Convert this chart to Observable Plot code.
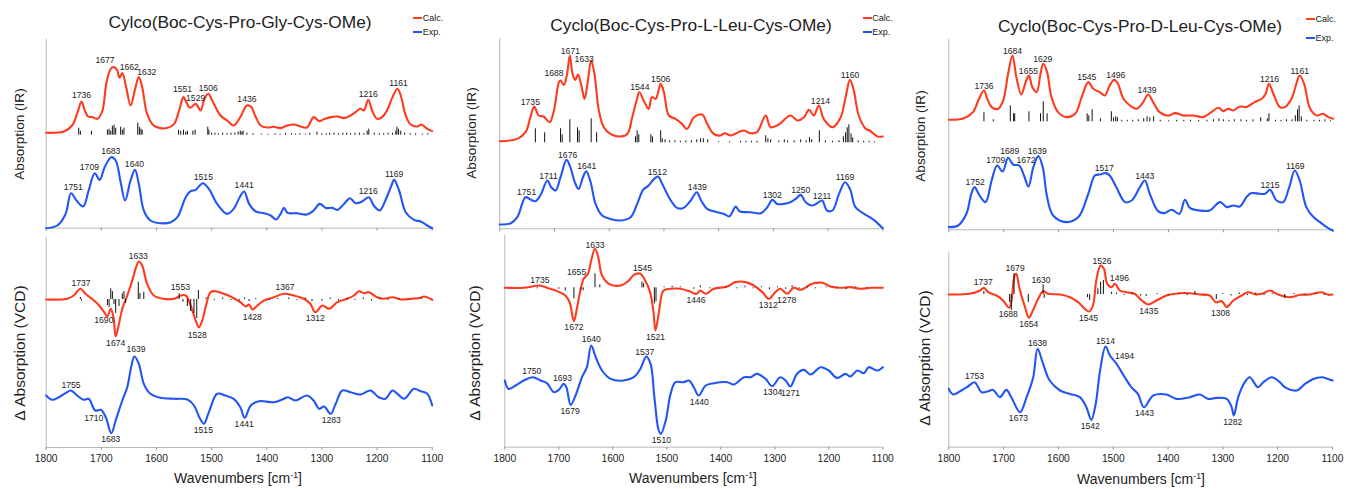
<!DOCTYPE html>
<html><head><meta charset="utf-8">
<script src="https://cdn.jsdelivr.net/npm/d3@7"></script>
<script src="https://cdn.jsdelivr.net/npm/@observablehq/plot@0.6"></script>
<style>
body{margin:0;background:#fff;}
#root{position:relative;width:1346px;height:489px;overflow:hidden;background:#fff;}
.abs{position:absolute;white-space:nowrap;color:#222;line-height:1;}
</style></head><body><div id="root"></div>
<script>
// ---------------- DATA (wavenumber cm-1, intensity in arbitrary units) ----------------
const xTicks = [1800,1700,1600,1500,1400,1300,1200,1100];
const titles = ["Cylco(Boc-Cys-Pro-Gly-Cys-OMe)","Cyclo(Boc-Cys-Pro-L-Leu-Cys-OMe)","Cyclo(Boc-Cys-Pro-D-Leu-Cys-OMe)"];
const legendNames = ["Calc.","Exp."];
const yTitleIR = "Absorption (IR)";
const yTitleVCD = "\u0394 Absorption (VCD)";

// Panel 1: Gly
const ir1Calc = [[1800,0],[1768,1.3],[1753,7.3],[1743,20.7],[1736,31.3],[1730,22.3],[1724,16.3],[1717,15.7],[1707,14],[1698,22.3],[1691,49],[1683,64],[1677,65.7],[1671,62.3],[1667,55],[1662,59.7],[1655,45.7],[1647,27.3],[1638,45.7],[1632,55.7],[1626,45.7],[1617,19],[1605,7.3],[1593,4.7],[1581,4.7],[1568,9],[1559,22.3],[1551,35.7],[1546,30.7],[1539,25],[1529,29],[1520,22.3],[1513,34],[1506,39],[1499,32.3],[1484,17.3],[1472,12.3],[1460,7.3],[1448,15.7],[1436,27.3],[1428,25.7],[1420,15.7],[1411,7.3],[1399,5.3],[1387,6],[1375,4.7],[1363,7.3],[1351,8.3],[1339,6.3],[1327,5.3],[1315,15.7],[1305,11.7],[1296,13.7],[1284,15.7],[1272,16.3],[1260,14.7],[1248,17.3],[1239,20.7],[1230,24],[1224,22.3],[1216,33],[1209,22.3],[1200,14],[1191,15.7],[1182,22.3],[1172,35.7],[1163,44],[1157,37.3],[1148,17.3],[1139,8.3],[1127,6.3],[1120,8.3],[1109,4],[1100,1.7]];
const ir1Exp = [[1800,0],[1780,2.7],[1765,14],[1755,35],[1745,27.7],[1733,21.7],[1723,37.7],[1712,55],[1703,48.3],[1694,61],[1682,71],[1674,67.7],[1665,46],[1657,27.7],[1647,47.7],[1639,58.3],[1632,44.3],[1623,17.7],[1611,7.7],[1593,5],[1574,6],[1562,11],[1547,31],[1538,37],[1529,38.3],[1516,45],[1505,39.3],[1490,24.3],[1472,14.3],[1460,19.3],[1449,31],[1441,36.7],[1432,24.3],[1420,16.7],[1405,15],[1393,12.7],[1383,8.7],[1375,14.3],[1369,20.3],[1362,15.3],[1345,15],[1327,13.7],[1315,17.7],[1304,24.3],[1293,20.3],[1281,20.3],[1272,18.3],[1260,24.3],[1249,30],[1239,25],[1227,26.7],[1215,31],[1206,22.7],[1195,17.7],[1185,27.7],[1175,41],[1169,48.3],[1160,37.7],[1148,16],[1133,8.3],[1121,6.7],[1109,2.7],[1100,0]];
const ir1Sticks = [[1741,7],[1738,4],[1718,4],[1689,5],[1686,6],[1683,4],[1680,9],[1677,10],[1674,7],[1665,8],[1662,5],[1659,7],[1634,12],[1631,8],[1628,6],[1626,5],[1560,5],[1556,4],[1551,5],[1547,3],[1544,4],[1534,4],[1530,5],[1507,8],[1505,5],[1500,2],[1494,2],[1488,1.5],[1480,2],[1472,1.5],[1465,2],[1458,2],[1452,3],[1448,4],[1445,3],[1443,4],[1436,2],[1425,1.5],[1410,1],[1398,1],[1385,1.5],[1376,1],[1366,1.5],[1355,1.5],[1348,1],[1340,1.5],[1330,1],[1322,2],[1309,3],[1300,1.5],[1292,1.5],[1286,2],[1278,2],[1270,1.5],[1262,2],[1255,2],[1248,1.5],[1240,2],[1232,2],[1224,1.5],[1218,4],[1215,6],[1205,2],[1196,1.5],[1188,1.5],[1180,2],[1172,2],[1166,4],[1164,8],[1161,6],[1157,4],[1150,2],[1140,1.5],[1130,1.5],[1118,1],[1108,1.5]];
const vcd1Calc = [[1800,0],[1762,0.7],[1750,4],[1738,10.7],[1729,5.7],[1717,0.7],[1704,-6],[1695,-12.7],[1689,-17],[1683,-9.3],[1678,-17.7],[1674,-37],[1668,-24.3],[1662,-9.3],[1653,4],[1644,19],[1637,32.3],[1632,38],[1626,34],[1617,15.7],[1605,4],[1587,0.7],[1568,0.7],[1556,4],[1547,4],[1538,-6],[1529,-21],[1523,-27.7],[1517,-21],[1511,-7.7],[1502,7.3],[1493,8.3],[1478,5.7],[1463,2.3],[1448,-2.7],[1438,-7],[1432,-5],[1426,-10],[1417,-6],[1405,-1],[1387,2.3],[1369,5.7],[1351,4],[1333,0.7],[1321,-4.3],[1312,-12.7],[1299,-6],[1287,-9.3],[1272,-2.7],[1254,0.7],[1242,4],[1233,8.3],[1224,6.3],[1215,7.3],[1200,2.3],[1188,0.7],[1172,2.3],[1157,0],[1139,0.7],[1121,1.7],[1115,3],[1100,-0.3]];
const vcd1Exp = [[1800,0],[1789,-4.3],[1777,-1.7],[1765,2.3],[1755,5],[1744,0],[1732,-4.3],[1723,-3.3],[1711,-15],[1701,-14.3],[1692,-21.7],[1682,-37.7],[1674,-25],[1662,-5],[1653,8.3],[1646,28.3],[1640,39],[1632,31.7],[1623,11.7],[1611,1.7],[1593,-2.3],[1568,-3.3],[1544,-4],[1532,-10],[1521,-23.3],[1514,-28.3],[1505,-16.7],[1490,1.7],[1475,0],[1460,-3.3],[1448,-11.7],[1440,-22.3],[1429,-10],[1414,-5.7],[1387,-6.7],[1369,-3.3],[1362,-1.7],[1348,-5],[1327,0],[1315,-5],[1305,-13.3],[1296,-11],[1284,-18.3],[1275,-8.3],[1263,5],[1248,3.3],[1230,1],[1212,5],[1197,-1.7],[1185,-3.3],[1172,5],[1163,1.7],[1151,-3.3],[1133,6.7],[1121,4.3],[1109,1.7],[1100,-10]];
const vcd1Sticks = [[1738,2],[1736,-1.5],[1689,-6],[1686,-8],[1683,10.7],[1680,8],[1677,-5],[1674,-14],[1668,-7],[1662,5.7],[1659,8],[1656,-4],[1633,17.3],[1630,6],[1623,7.3],[1559,5.7],[1552,-2.7],[1544,-7],[1538,-12],[1532,-14],[1527,-19],[1524,9],[1510,1.5],[1495,-1],[1480,1.5],[1465,-1],[1450,-1.5],[1440,1.5],[1432,-2],[1420,1],[1395,-1],[1380,1],[1360,1.5],[1345,-1],[1330,1.5],[1318,-2],[1300,-1.5],[1285,1.5],[1270,-1.5],[1255,1],[1240,-1],[1225,1.5],[1210,-1.5],[1195,1],[1180,-1],[1160,1],[1140,-1],[1120,1]];
const lab1IRcalc = [1736,1677,1662,1632,1551,1529,1506,1436,1216,1161];
const lab1IRexp = [1751,1709,1683,1640,1515,1441,1216,1169];
const lab1VCDcalcUp = [1737,1633,1553,1367];
const lab1VCDcalcDown = [1690,1674,1528,1428,1312];
const lab1VCDexpUp = [1755,1639];
const lab1VCDexpDown = [1710,1683,1515,1441,1283];

// Panel 2: L-Leu
const ir2Calc = [[1800,0],[1768,2.3],[1753,9],[1744,24],[1737,34.7],[1729,25.7],[1720,24.7],[1709,19],[1701,30.7],[1692,59],[1689,60.7],[1683,56.3],[1677,67.3],[1672,85.7],[1667,67.3],[1662,61.3],[1657,66.7],[1651,55.7],[1645,42.3],[1639,60.7],[1633,80.7],[1627,67.3],[1619,30.7],[1610,14],[1598,7.3],[1582,4.7],[1567,7.3],[1558,24],[1550,40.7],[1545,49],[1537,40.7],[1528,32.3],[1522,44],[1515,42.3],[1506,57.3],[1500,49],[1491,25.7],[1479,22.3],[1467,17.3],[1458,12.3],[1445,24],[1430,26.7],[1421,17.3],[1409,7.3],[1397,5.7],[1389,8],[1378,5.7],[1360,10],[1354,10.7],[1342,8],[1330,9],[1314,25.7],[1305,14],[1290,16.7],[1269,25.7],[1256,20.7],[1244,24],[1235,31.3],[1226,25.7],[1217,35.7],[1208,22.3],[1192,14],[1177,24],[1168,44],[1160,61.3],[1153,50.7],[1144,25.7],[1131,12.3],[1124,10.7],[1110,4.7],[1100,4.7]];
const ir2Exp = [[1800,3.7],[1780,5],[1768,11],[1753,31],[1744,28.7],[1735,27],[1726,32.7],[1713,47.7],[1706,41],[1698,37.7],[1689,51],[1678,68.3],[1671,61],[1663,46],[1656,39.3],[1648,51],[1642,57],[1634,46],[1625,24.3],[1613,12.7],[1598,9.3],[1579,7.7],[1561,11],[1549,24.3],[1538,38.3],[1528,42.7],[1518,49.3],[1511,51.7],[1503,44.3],[1491,31],[1476,20.3],[1464,20.3],[1451,27.7],[1440,36],[1432,27.7],[1421,19.3],[1403,16],[1390,14.3],[1381,11.7],[1375,16],[1369,21.7],[1362,17],[1342,16],[1323,15],[1311,21],[1302,28.3],[1293,24.3],[1281,24.3],[1269,26],[1259,29.3],[1250,33.3],[1241,26],[1229,22.7],[1220,25],[1211,27.7],[1202,17.7],[1192,17.7],[1180,34.3],[1169,46],[1160,39.3],[1150,21],[1134,14.3],[1119,9.3],[1100,0]];
const ir2Sticks = [[1735,14],[1718,10],[1689,14],[1686,8],[1672,23],[1658,15],[1655,12],[1633,24],[1623,10],[1552,6],[1549,12],[1546,8],[1524,8],[1521,6],[1506,12],[1503,4],[1498,3],[1490,2],[1480,2],[1470,1.5],[1460,2],[1450,2],[1440,3],[1433,4],[1428,4],[1420,3],[1400,1],[1380,1],[1360,1.5],[1350,1.5],[1340,1.5],[1330,1.5],[1314,7],[1310,4],[1305,3],[1290,2],[1280,3],[1274,2],[1262,2],[1250,3],[1240,2],[1234,5],[1230,3],[1216,12],[1205,2],[1192,1.5],[1180,2],[1172,6],[1168,10],[1165,15],[1162,18],[1158,9],[1155,5],[1145,2],[1135,1.5],[1125,1.5],[1115,1]];
const vcd2Calc = [[1800,0],[1765,0],[1749,1.3],[1735,2.3],[1722,0],[1703,-3.3],[1688,-7.7],[1680,-14.3],[1672,-33.3],[1666,-19.3],[1660,-2.7],[1654,9],[1646,14],[1640,27.3],[1633,39],[1627,30.7],[1620,12.3],[1607,4],[1586,2.3],[1570,7.3],[1561,13],[1549,14],[1540,7.3],[1531,-4.3],[1525,-22.7],[1521,-42.7],[1515,-26],[1506,-2.7],[1493,-1],[1475,-1],[1459,-3.3],[1445,-6],[1438,-2.7],[1428,-6],[1413,-1],[1388,1.3],[1373,5.7],[1354,5.7],[1339,2.3],[1323,-4.3],[1311,-11],[1299,-4.3],[1290,-1],[1277,-6],[1265,0],[1252,-2],[1231,4],[1212,5],[1197,1.3],[1178,0],[1160,0.7],[1141,-1],[1122,0],[1100,0]];
const vcd2Exp = [[1800,-4.3],[1793,-12.7],[1780,-9.3],[1765,-4.3],[1748,-1],[1734,-4.3],[1722,-7],[1709,-16],[1700,-13.7],[1691,-7.7],[1686,-11],[1678,-28.7],[1669,-19.3],[1657,-1],[1648,9],[1640,30.7],[1632,19.7],[1620,5.7],[1604,-2.7],[1580,-4.3],[1561,-1],[1549,7.3],[1538,19.7],[1530,12.3],[1523,-21],[1515,-54.3],[1511,-57.7],[1502,-44.3],[1493,-17.7],[1484,-6],[1469,-6],[1459,-4.3],[1450,-11],[1441,-19.3],[1428,-9.3],[1413,-7],[1388,-6],[1376,-8.3],[1357,-1],[1345,-1],[1333,2.3],[1317,-2.7],[1305,-10],[1290,-1],[1280,-4.3],[1271,-10.3],[1259,2.3],[1246,6.3],[1234,1.7],[1215,9],[1200,5.7],[1185,-1.7],[1169,2.3],[1160,-0.3],[1147,5.7],[1135,3],[1126,9],[1110,5.7],[1100,9]];
const vcd2Sticks = [[1740,-1],[1700,-1.5],[1688,-3],[1672,-11],[1660,-2],[1655,-3],[1633,14],[1624,3],[1546,5.7],[1543,4],[1523,-16],[1520,-14],[1505,1],[1490,1.5],[1475,1],[1450,-1.5],[1438,2],[1420,-1],[1390,1],[1370,-1],[1355,1.5],[1340,-1],[1325,1],[1310,-2],[1295,1],[1280,-1.5],[1268,2],[1255,-1],[1240,1],[1225,-1],[1205,1],[1185,-1],[1168,-2],[1150,1],[1130,-1]];
const lab2IRcalc = [1735,1688,1671,1633,1544,1506,1214,1160];
const lab2IRexp = [1751,1711,1676,1641,1512,1439,1302,1250,1211,1169];
const lab2VCDcalcUp = [1735,1655,1633,1545];
const lab2VCDcalcDown = [1672,1521,1446,1312,1278];
const lab2VCDexpUp = [1750,1693,1640,1537];
const lab2VCDexpDown = [1679,1510,1440,1304,1271];

// Panel 3: D-Leu
const ir3Calc = [[1800,0],[1774,1.3],[1756,7.7],[1745,21],[1736,29.3],[1730,21],[1722,12.7],[1710,11],[1701,19.3],[1692,46],[1684,64.3],[1677,42.7],[1668,25.3],[1660,37.7],[1654,44.3],[1648,32.7],[1640,27.7],[1633,46],[1628,56],[1621,47.7],[1613,22.7],[1601,7.7],[1586,2.7],[1570,6],[1558,22.7],[1546,37.7],[1537,31],[1525,27.7],[1516,24.3],[1507,34.3],[1499,40],[1492,36],[1482,21],[1470,14.3],[1458,11],[1446,17.7],[1437,25.3],[1428,17.7],[1416,7.7],[1400,4.3],[1388,6.7],[1373,4.3],[1355,4.3],[1337,2.7],[1322,7.7],[1309,12],[1300,8.7],[1291,11],[1282,9.3],[1270,13.3],[1258,12.7],[1243,17.7],[1230,21],[1223,26],[1217,36],[1209,26],[1197,12.7],[1188,12.7],[1176,21],[1168,34.3],[1161,44.3],[1153,36],[1142,11],[1130,4.3],[1118,6],[1109,2.7],[1100,1]];
const ir3Exp = [[1800,2.7],[1783,4.3],[1768,16],[1759,36],[1753,42.7],[1744,34.3],[1733,27.7],[1722,49.3],[1712,64.3],[1702,58.3],[1692,72],[1683,65.3],[1672,64.3],[1663,54.3],[1655,43.3],[1646,62.7],[1637,73.7],[1629,62.7],[1621,32.7],[1610,14.3],[1586,7.7],[1564,12.7],[1546,36],[1534,54.3],[1525,55.3],[1514,56.7],[1507,54.3],[1495,42.7],[1479,27.7],[1467,29.3],[1452,42.7],[1443,49.3],[1434,36],[1419,18.7],[1407,16.7],[1394,20],[1380,16],[1370,30],[1361,22],[1343,19.3],[1325,19.3],[1306,27.7],[1294,22.7],[1282,24.3],[1270,23.3],[1258,32.7],[1249,36.7],[1234,36],[1224,36],[1215,40],[1203,29.3],[1191,27.7],[1180,42.7],[1170,59.3],[1161,49.3],[1149,22.7],[1136,12.7],[1124,7.7],[1112,2.7],[1101,-0.7]];
const ir3Sticks = [[1736,9],[1719,2],[1688,16],[1682,8],[1680,8],[1654,10],[1633,8],[1628,20],[1621,8],[1548,8],[1545,6],[1539,12],[1524,3],[1504,10],[1500,4],[1496,5],[1493,4],[1485,1.5],[1475,1.5],[1465,1.5],[1455,2],[1445,3],[1439,5],[1434,4],[1427,5],[1415,1.5],[1400,1],[1385,1.5],[1372,1.5],[1360,1.5],[1345,1.5],[1330,1.5],[1318,2],[1308,3],[1300,2],[1290,1.5],[1280,2],[1268,2],[1258,1.5],[1246,2],[1232,4],[1220,3],[1217,8],[1205,1.5],[1195,1.5],[1185,2],[1175,2],[1169,6],[1165,12],[1162,16],[1158,5],[1148,1.5],[1135,1.5],[1125,1.5],[1115,2],[1105,1]];
const vcd3Calc = [[1800,0],[1762,0.7],[1743,4],[1736,6.7],[1728,2.3],[1713,-1],[1701,-6],[1690,-13.3],[1686,-7.7],[1680,19],[1677,20.7],[1671,5.7],[1661,-12.7],[1654,-23.3],[1646,-15.3],[1637,-4.3],[1628,3.3],[1619,0.7],[1597,0],[1579,-2.7],[1564,-7.7],[1552,-14.3],[1544,-17],[1537,-11],[1531,14],[1523,29],[1517,25.7],[1511,10.7],[1503,7.3],[1497,10.7],[1488,4],[1476,2.3],[1461,0.7],[1448,-6],[1436,-10],[1421,-6],[1403,-1],[1379,1.3],[1360,1.3],[1342,0],[1324,-1],[1313,-7.7],[1302,-6.7],[1293,-12.7],[1281,-6],[1269,-2],[1254,2.3],[1239,0],[1226,1.3],[1214,4],[1199,0],[1178,-2.7],[1159,-0.3],[1141,0],[1120,2.3],[1108,-0.3],[1100,0]];
const vcd3Exp = [[1800,-2.7],[1792,-8.3],[1777,-4.3],[1765,-0.3],[1753,4],[1740,-6],[1728,-5],[1719,-3.7],[1707,-11],[1695,-3.7],[1686,-11],[1670,-26],[1658,-11],[1646,9],[1638,37.3],[1628,22.3],[1616,5.7],[1597,-4.3],[1579,-7.7],[1561,-11],[1549,-21],[1540,-33.7],[1532,-17.7],[1524,15.7],[1514,39.7],[1506,30.7],[1494,22.3],[1479,9],[1467,-1],[1455,-7.7],[1444,-21],[1427,-9.3],[1403,-8.3],[1385,-12.7],[1360,-11],[1342,-8.3],[1327,-12.7],[1312,-11.7],[1293,-12.7],[1284,-21],[1280,-29.3],[1272,-11],[1260,4],[1251,9],[1236,-1],[1226,4],[1211,9],[1196,4],[1187,-1],[1166,-4.3],[1150,2.3],[1135,7.3],[1120,9],[1108,7.3],[1100,5.7]];
const vcd3Sticks = [[1736,3],[1689,-8],[1686,-16],[1681,20.7],[1655,-8],[1628,9.7],[1626,-4],[1547,-3],[1543,-6],[1528,5.7],[1523,12.3],[1518,14],[1503,2.3],[1494,1.5],[1480,-1],[1465,1],[1450,-1.5],[1440,-2],[1420,1],[1400,-1],[1380,1],[1365,-1],[1351,3],[1335,-1],[1312,-5],[1300,1],[1285,-1.5],[1270,1.5],[1255,-1],[1240,1.5],[1225,-1],[1210,1],[1187,-4],[1170,1],[1150,-1],[1130,1],[1115,-1]];
const lab3IRcalc = [1736,1684,1655,1629,1545,1496,1439,1216,1161];
const lab3IRexp = [1752,1709,1689,1672,1639,1517,1443,1215,1169];
const lab3VCDcalcUp = [1737,1679,1630,1526,1496];
const lab3VCDcalcDown = [1688,1654,1545,1435,1308];
const lab3VCDexpUp = [1753,1638,1514,1494];
const lab3VCDexpDown = [1673,1542,1443,1282];

// ---------------- STYLE / LAYOUT ----------------
const RED = "#ff3b1f", BLUE = "#2256f2", STICK = "#111", AXIS = "#b8b8b8", TXT = "#222";
const HF = '"Liberation Sans", Arial, Helvetica, sans-serif';
const FS = {title: 17.3, legend: 9, tick: 10.2, label: 8.6, xTitle: 14, yIR: 13.6, yVCD: 15.5};

const panels = [
  { title: titles[0], xL: 45.7, xLv: 45.7, xR: 431.7, xRv: 431.7,
    ir: {top: 38.5, bot: 227.7, red: 132.3, stick: 134.7, blue: 227.7},
    vcd: {top: 237, bot: 447, red: 299, blue: 395},
    data: {irCalc: ir1Calc, irExp: ir1Exp, irSticks: ir1Sticks, vcdCalc: vcd1Calc, vcdExp: vcd1Exp, vcdSticks: vcd1Sticks},
    labs: {irCalc: lab1IRcalc, irExp: lab1IRexp, vcUp: lab1VCDcalcUp, vcDn: lab1VCDcalcDown, veUp: lab1VCDexpUp, veDn: lab1VCDexpDown},
    nudge: {irCalc: {1677:[-9,-6.5],1662:[7,-5.5],1632:[8,-5],1551:[-1,-7.5]}, irExp: {1709:[-7,-5.5]},
            vc: {1690:[-3,4],1553:[-2,-8],1367:[0,-7],1528:[1,8],1428:[1,8]}, ve: {1639:[1,-7],1710:[-2,8]}},
    irUp: -6, titlePos: [240, 23.3], legend: [413.3, 18.3, 32.3], xTitle: [238, 478], yIR: [20, 134], yVCD: [20, 353] },
  { title: titles[1], xL: 499.3, xLv: 504.3, xR: 882.3, xRv: 882.3,
    ir: {top: 38.3, bot: 228.3, red: 140.7, stick: 142.3, blue: 227.7},
    vcd: {top: 235, bot: 446.7, red: 287.3, blue: 375.7},
    data: {irCalc: ir2Calc, irExp: ir2Exp, irSticks: ir2Sticks, vcdCalc: vcd2Calc, vcdExp: vcd2Exp, vcdSticks: vcd2Sticks},
    labs: {irCalc: lab2IRcalc, irExp: lab2IRexp, vcUp: lab2VCDcalcUp, vcDn: lab2VCDcalcDown, veUp: lab2VCDexpUp, veDn: lab2VCDexpDown},
    nudge: {irCalc: {1735:[-5,-4.5],1688:[-7,-7],1633:[-7,-1]}, irExp: {},
            vc: {1655:[-6.5,-6.5],1633:[0,-3.5]}, ve: {1537:[-2,-4.5],1640:[0,-6.5]}},
    irUp: -4.5, titlePos: [691, 25.7], legend: [862.7, 18.3, 32.3], xTitle: [693, 478], yIR: [471.7, 133.3], yVCD: [475, 353] },
  { title: titles[2], xL: 948.3, xLv: 948.3, xR: 1332.7, xRv: 1332,
    ir: {top: 39, bot: 229.3, red: 119.3, stick: 121.3, blue: 229.3},
    vcd: {top: 252, bot: 446.7, red: 294, blue: 385.7},
    data: {irCalc: ir3Calc, irExp: ir3Exp, irSticks: ir3Sticks, vcdCalc: vcd3Calc, vcdExp: vcd3Exp, vcdSticks: vcd3Sticks},
    labs: {irCalc: lab3IRcalc, irExp: lab3IRexp, vcUp: lab3VCDcalcUp, vcDn: lab3VCDcalcDown, veUp: lab3VCDexpUp, veDn: lab3VCDexpDown},
    nudge: {irCalc: {1545:[-2,-4.5]}, irExp: {1709:[-3,-5.5],1689:[0,-6.5],1672:[7,-5]},
            vc: {1630:[-1,-11],1526:[3,-4],1496:[4,-5.5],1308:[2,11],1688:[-2,6]}, ve: {1494:[8,-8]}},
    irUp: -4.5, titlePos: [1140, 26.7], legend: [1306, 19, 37.7], xTitle: [1141, 479], yIR: [921, 135.7], yVCD: [925, 358] }
];

const root = document.getElementById("root");
function addDiv(html, x, y, size, mode){
  const d = document.createElement("div");
  d.className = "abs";
  d.innerHTML = html;
  d.style.left = x + "px"; d.style.top = y + "px";
  d.style.fontSize = size + "px"; d.style.fontFamily = HF;
  d.style.transform = mode === "rot" ? "translate(-50%,-50%) rotate(-90deg)" : mode === "start" ? "translate(0,-50%)" : "translate(-50%,-50%)";
  root.appendChild(d);
  return d;
}
function addLine(x, y, w, color){
  const d = document.createElement("div");
  d.style.cssText = `position:absolute;left:${x}px;top:${y-1}px;width:${w}px;height:2px;background:${color};`;
  root.appendChild(d);
}
function place(svg, top){
  svg.style.position = "absolute"; svg.style.left = "0px"; svg.style.top = top + "px";
  svg.style.maxWidth = "none"; svg.style.background = "transparent"; svg.style.overflow = "visible";
  root.appendChild(svg);
}
// labels: positioned at local extremum (within ±8 cm-1) of the series
function makeLabels(series, off, list, dir, nudge, defDy, pxPerWn){
  return list.map(v => {
    const hs = series.filter(d => Math.abs(d[0] - v) <= 8).map(d => d[1]);
    const h = dir > 0 ? d3.max(hs) : d3.min(hs);
    const n = nudge[v] || [0, defDy];
    return {x: v - n[0] / pxPerWn, y: h + off - n[1], t: String(v)};
  });
}

panels.forEach(p => {
  const W = 1346;
  // ---------- IR ----------
  const T1 = 30, H1 = 205;
  const offR = p.ir.bot - p.ir.red, offS = p.ir.bot - p.ir.stick, offB = p.ir.bot - p.ir.blue;
  const ppw = (p.xR - p.xL) / 700;
  const irLabels = [
    ...makeLabels(p.data.irCalc, offR, p.labs.irCalc, 1, p.nudge.irCalc, p.irUp, ppw),
    ...makeLabels(p.data.irExp, offB, p.labs.irExp, 1, p.nudge.irExp, p.irUp, ppw)
  ];
  const ir = Plot.plot({
    width: W, height: H1,
    marginLeft: p.xL, marginRight: W - p.xR, marginTop: p.ir.top - T1, marginBottom: T1 + H1 - p.ir.bot,
    x: {domain: [1800, 1100]},
    y: {domain: [0, p.ir.bot - p.ir.top], axis: null},
    style: {fontFamily: HF, background: "transparent", overflow: "visible"},
    marks: [
      Plot.ruleX([1800], {stroke: AXIS}),
      Plot.ruleY([0], {stroke: AXIS}),
      Plot.axisX({ticks: xTicks, tickSize: 3, tickFormat: () => "", label: null, color: "#999"}),
      Plot.ruleX(p.data.irSticks, {x: d => d[0], y1: offS, y2: d => offS + d[1], stroke: STICK, strokeWidth: 1}),
      Plot.line(p.data.irCalc, {x: d => d[0], y: d => d[1] + offR, stroke: RED, strokeWidth: 2.1, curve: "catmull-rom"}),
      Plot.line(p.data.irExp, {x: d => d[0], y: d => d[1] + offB, stroke: BLUE, strokeWidth: 2.1, curve: "catmull-rom"}),
      Plot.text(irLabels, {x: "x", y: "y", text: "t", fontSize: FS.label, fill: TXT, textAnchor: "middle", lineAnchor: "middle"})
    ]
  });
  place(ir, T1);

  // ---------- VCD ----------
  const T2 = 230, H2 = 259;
  const vR = p.vcd.bot - p.vcd.red, vB = p.vcd.bot - p.vcd.blue;
  const ppv = (p.xRv - p.xLv) / 700;
  const vLabels = [
    ...makeLabels(p.data.vcdCalc, vR, p.labs.vcUp, 1, p.nudge.vc, -5.5, ppv),
    ...makeLabels(p.data.vcdCalc, vR, p.labs.vcDn, -1, p.nudge.vc, 6.5, ppv),
    ...makeLabels(p.data.vcdExp, vB, p.labs.veUp, 1, p.nudge.ve, -5.5, ppv),
    ...makeLabels(p.data.vcdExp, vB, p.labs.veDn, -1, p.nudge.ve, 6.5, ppv)
  ];
  const vcd = Plot.plot({
    width: W, height: H2,
    marginLeft: p.xLv, marginRight: W - p.xRv, marginTop: p.vcd.top - T2, marginBottom: T2 + H2 - p.vcd.bot,
    x: {domain: [1800, 1100]},
    y: {domain: [0, p.vcd.bot - p.vcd.top], axis: null},
    style: {fontFamily: HF, background: "transparent", overflow: "visible"},
    marks: [
      Plot.ruleX([1800], {stroke: AXIS}),
      Plot.ruleY([0], {stroke: AXIS}),
      Plot.axisX({ticks: xTicks, tickSize: 3, tickFormat: () => "", label: null, color: "#999"}),
      Plot.axisX({ticks: xTicks, tickSize: 0, tickPadding: 7.5, tickFormat: d => String(d), fontSize: FS.tick, label: null, color: TXT}),
      Plot.line(p.data.vcdCalc, {x: d => d[0], y: d => d[1] + vR, stroke: RED, strokeWidth: 2.1, curve: "catmull-rom"}),
      Plot.ruleX(p.data.vcdSticks, {x: d => d[0], y1: vR, y2: d => vR + d[1], stroke: STICK, strokeWidth: 1}),
      Plot.line(p.data.vcdExp, {x: d => d[0], y: d => d[1] + vB, stroke: BLUE, strokeWidth: 2.1, curve: "catmull-rom"}),
      Plot.text(vLabels, {x: "x", y: "y", text: "t", fontSize: FS.label, fill: TXT, textAnchor: "middle", lineAnchor: "middle"})
    ]
  });
  place(vcd, T2);

  // ---------- texts ----------
  addDiv(p.title, p.titlePos[0], p.titlePos[1], FS.title, "center");
  addLine(p.legend[0], p.legend[1], 9, RED);
  addLine(p.legend[0], p.legend[2], 9, BLUE);
  addDiv(legendNames[0], p.legend[0] + 9.5, p.legend[1], FS.legend, "start");
  addDiv(legendNames[1], p.legend[0] + 9.5, p.legend[2], FS.legend, "start");
  addDiv('Wavenumbers [cm<sup style="font-size:0.62em;vertical-align:0.6em;line-height:0">-1</sup>]', p.xTitle[0], p.xTitle[1], FS.xTitle, "center");
  addDiv(yTitleIR, p.yIR[0], p.yIR[1], FS.yIR, "rot");
  addDiv(yTitleVCD, p.yVCD[0], p.yVCD[1], FS.yVCD, "rot");
});
</script>
</body></html>
